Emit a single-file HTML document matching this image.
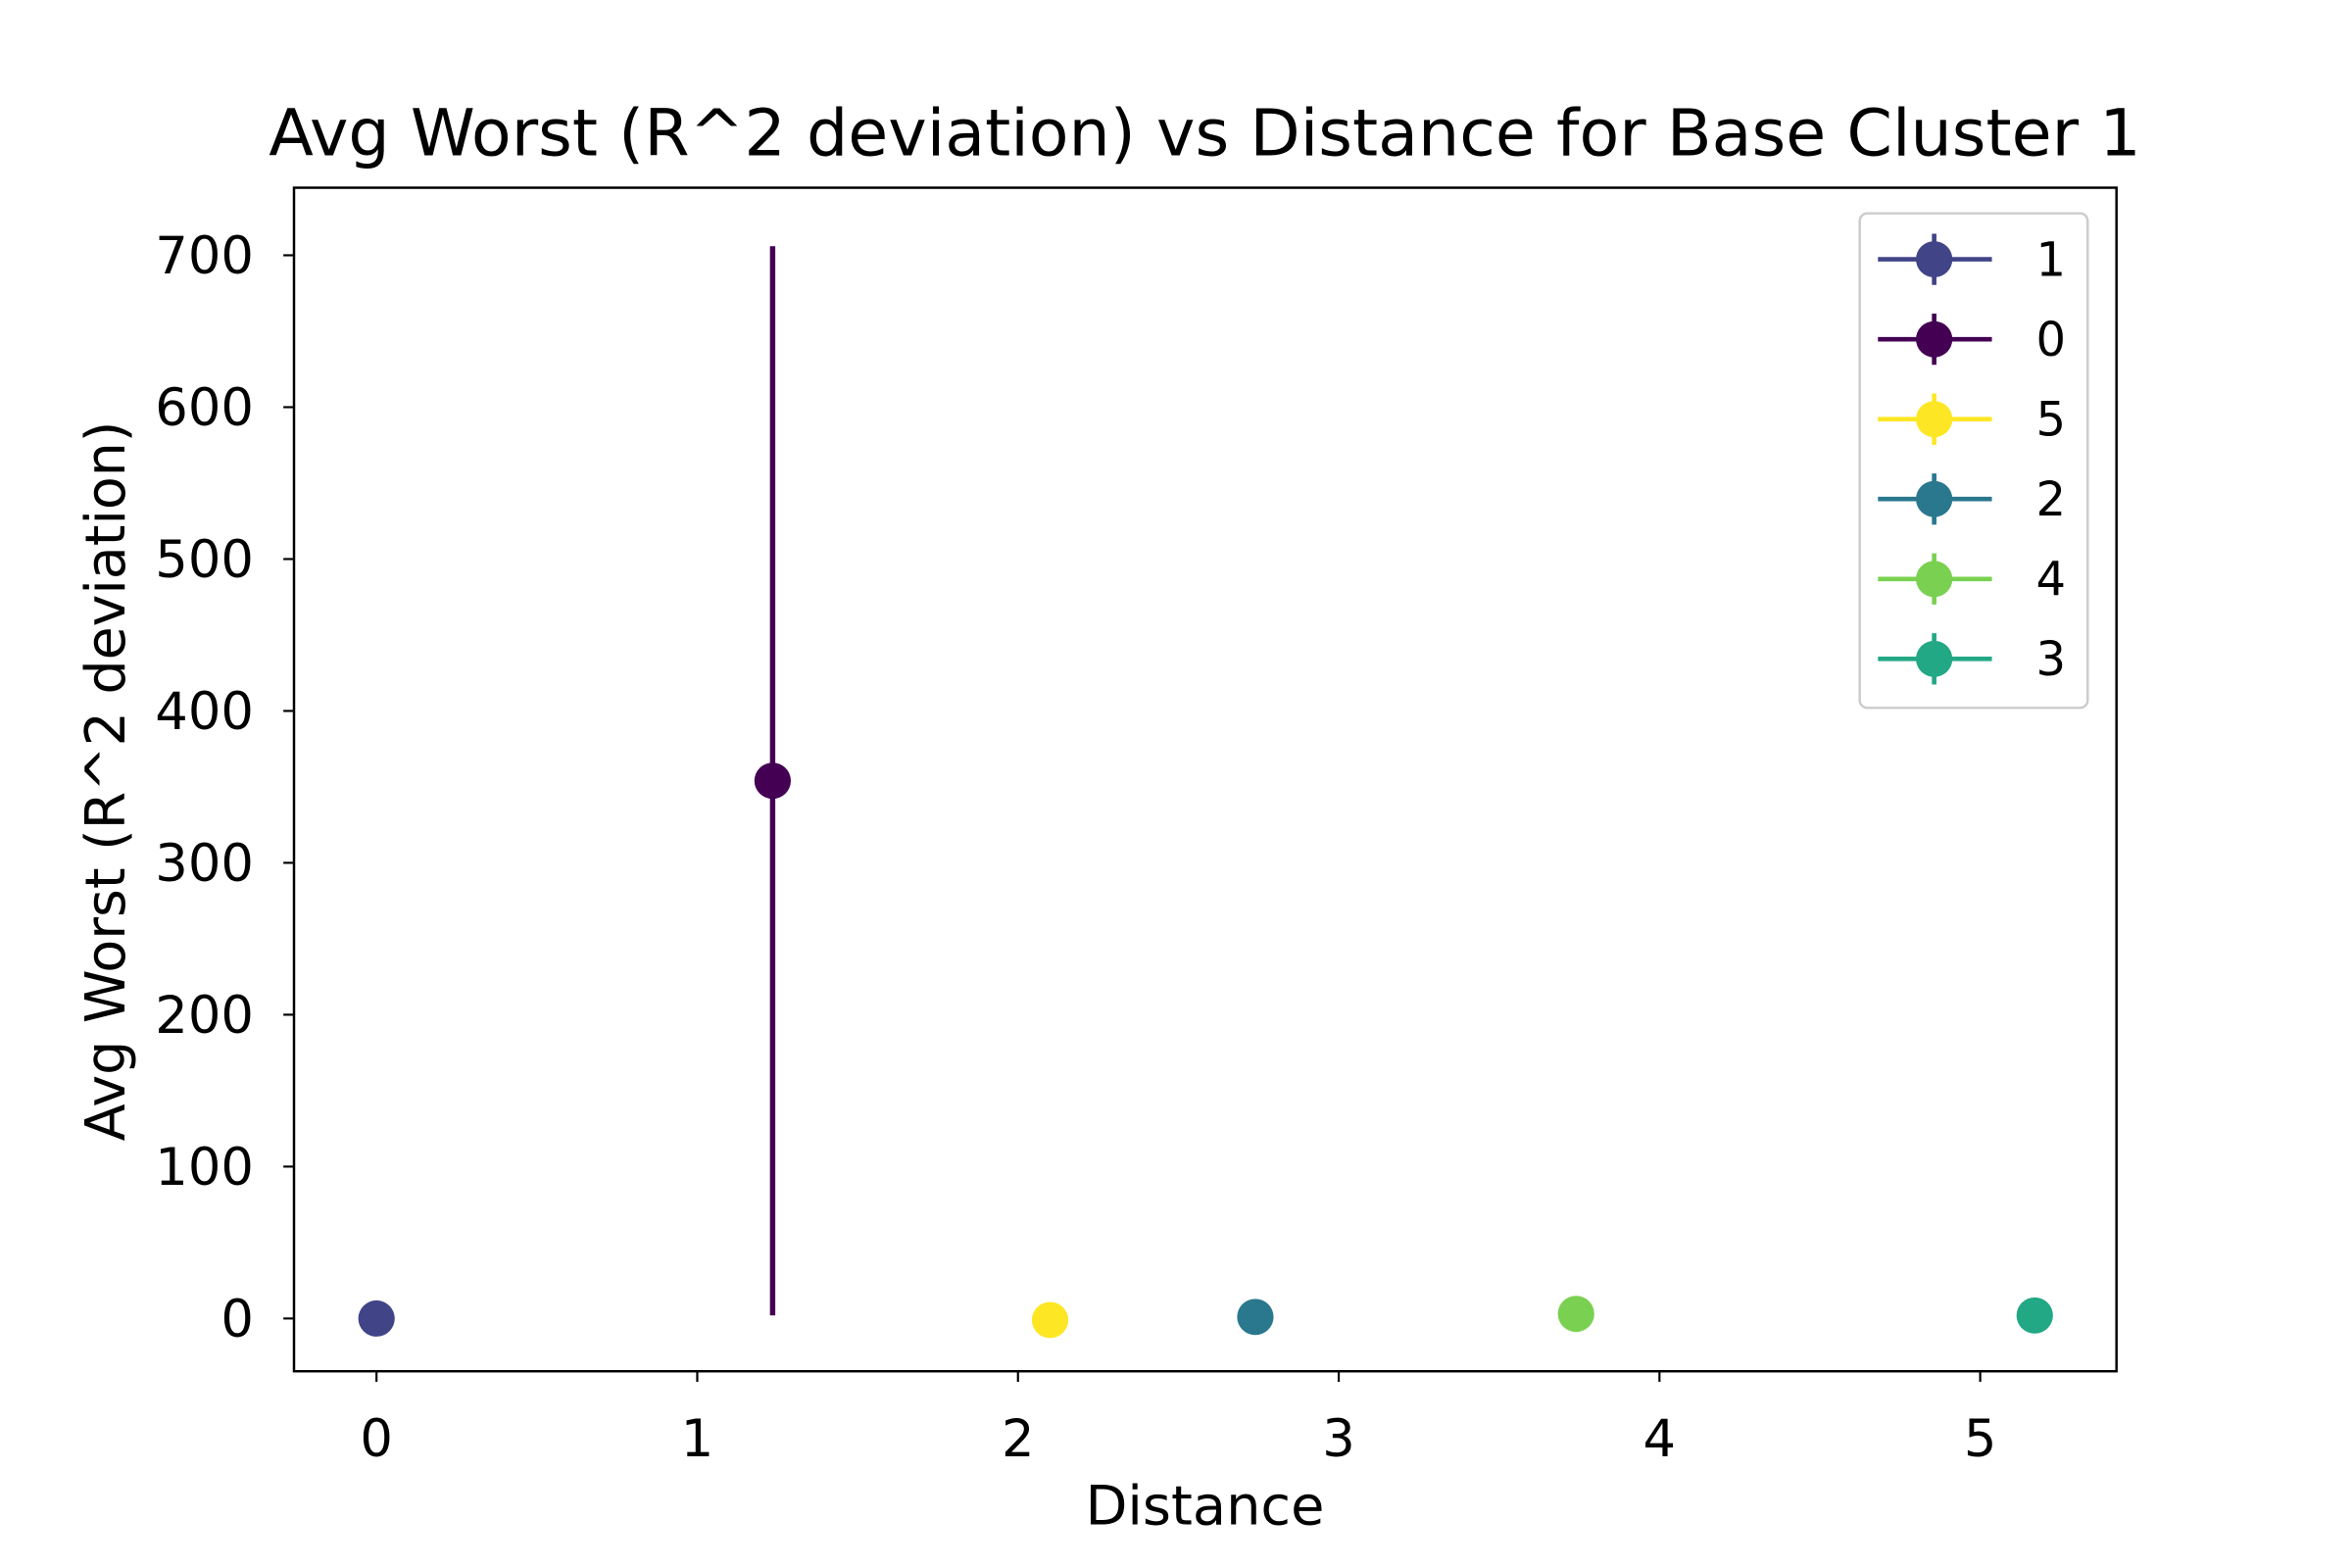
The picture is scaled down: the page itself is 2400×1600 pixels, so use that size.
<!DOCTYPE html>
<html><head><meta charset="utf-8"><style>
html,body{margin:0;padding:0;background:#fff}
svg{display:block}
text{font-family:"DejaVu Sans","Liberation Sans",sans-serif;fill:#000}
</style></head><body>
<svg id="chart" width="2400" height="1600" viewBox="0 0 1548 1040" preserveAspectRatio="none" xmlns="http://www.w3.org/2000/svg">
<rect width="1548" height="1040" fill="#fff"/>
<text x="793" y="103" font-size="43" text-anchor="middle">Avg Worst (R^2 deviation) vs Distance for Base Cluster 1</text>
<g id="plot"></g>
<rect x="193.5" y="124.5" width="1199.5" height="785" fill="none" stroke="#000" stroke-width="1.6"/>
<text x="793" y="1011" font-size="36" text-anchor="middle">Distance</text>
<text transform="translate(82,518) rotate(-90)" font-size="36" text-anchor="middle">Avg Worst (R^2 deviation)</text>
<g id="legend"></g>
</svg>
<script>
const labels = ["1","0","5","2","4","3"];
const xs = [0, 1.235, 2.1, 2.74, 3.74, 5.17];
const ys = [0, 354, -1, 1, 3, 2];
const errs = [0.5, 352, 0.5, 0.5, 0.5, 0.5];
const colors = ["#414487","#440154","#fde725","#2a788e","#7ad151","#22a884"];
const xTicks = [0,1,2,3,4,5];
const yTicks = [0,100,200,300,400,500,600,700];
const NS="http://www.w3.org/2000/svg";
function X(v){return 247.8 + v*211.1;}
function Y(v){return 874.5 - v*1.0074;}
function mk(tag,attrs,parent){const e=document.createElementNS(NS,tag);for(const k in attrs)e.setAttribute(k,attrs[k]);parent.appendChild(e);return e;}
const plot=document.getElementById('plot');
const svg=document.getElementById('chart');
xTicks.forEach(t=>{
  const l=mk('line',{x1:X(t),x2:X(t),y1:909.5,y2:916.5,stroke:'#000','stroke-width':1.4},svg);
  
  
  const tx=mk('text',{x:X(t),y:966,'font-size':34,'text-anchor':'middle'},svg);
  tx.textContent=t;
  
  
});
yTicks.forEach(t=>{
  const l=mk('line',{x1:186.5,x2:193.5,y1:Y(t),y2:Y(t),stroke:'#000','stroke-width':1.4},svg);
  
  
  const tx=mk('text',{x:167,y:Y(t)+12,'font-size':34,'text-anchor':'end'},svg);
  tx.textContent=t;
  
  
});
xs.forEach((x,i)=>{
  const g=mk('g',{},plot);
  
  
  const e=mk('line',{x1:X(x),x2:X(x),y1:Y(ys[i]-errs[i]),y2:Y(ys[i]+errs[i]),stroke:colors[i],'stroke-width':3.5},g);
  
  
  const c=mk('circle',{cx:X(x),cy:Y(ys[i]),r:12,fill:colors[i]},g);
  
  
});
const lg=document.getElementById('legend');


mk('rect',{x:1224,y:141.5,width:150,height:328,rx:5,fill:'#fff','fill-opacity':0.8,stroke:'#ccc','stroke-width':1.6},lg);
labels.forEach((lab,i)=>{
  const y=172+i*53;
  const g=mk('g',{},lg);
  
  
  mk('line',{x1:1236,x2:1311,y1:y,y2:y,stroke:colors[i],'stroke-width':3},g);
  mk('line',{x1:1273,x2:1273,y1:y-17,y2:y+17,stroke:colors[i],'stroke-width':3},g);
  mk('circle',{cx:1273,cy:y,r:12,fill:colors[i]},g);
  const t=mk('text',{x:1340,y:y+11,'font-size':31},g);
  t.textContent=lab;
});
</script>
</body></html>
